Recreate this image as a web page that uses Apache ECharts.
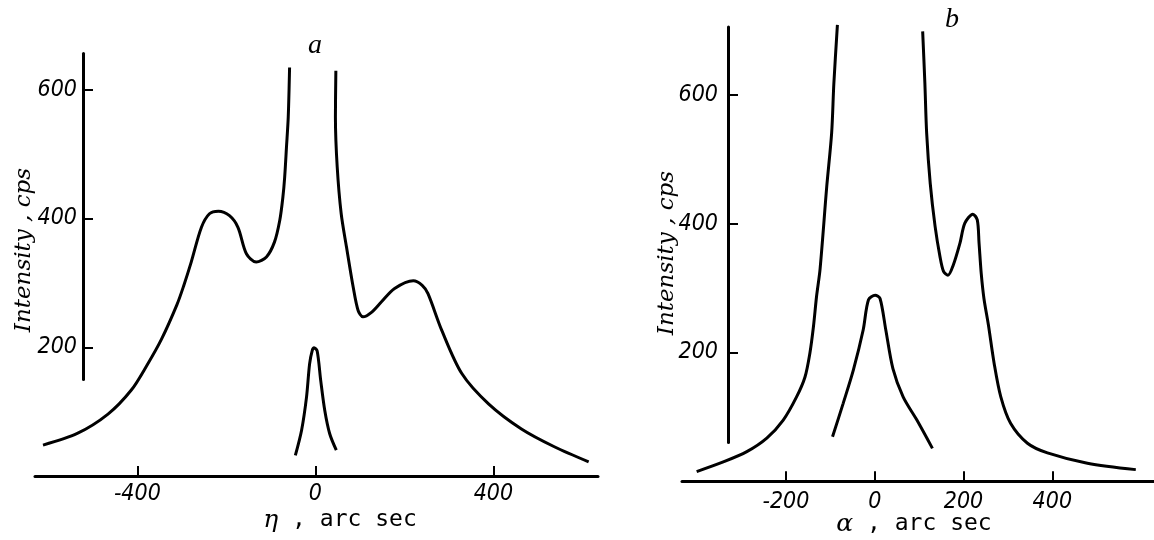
<!DOCTYPE html>
<html>
<head>
<meta charset="utf-8">
<title>Intensity curves</title>
<script src="https://cdn.jsdelivr.net/npm/echarts@6/dist/echarts.min.js"></script>
<style>
    html, body { margin: 0; padding: 0; background: #fff; }
    .chart { width: 1154px; height: 540px; }
</style>
</head>
<body>
<div class="chart"></div>
<script>
// 左图 a : 主曲线 (左支 / 右支) 和 中间窄峰
var etaMainLeft = [-612, -535, -466, -414, -380, -346, -311, -296, -279, -256, -238, -218, -193, -174, -155, -133, -110, -92, -80, -73, -69, -65, -61, -58];
var intMainLeft = [48, 66, 96, 133, 170, 212, 266, 295, 332, 386, 407, 411, 404, 386, 345, 332, 340, 363, 397, 433, 464, 510, 557, 634];
var etaMainRight = [46, 45, 49, 58, 70, 85, 96, 107, 126, 148, 178, 220, 240, 253, 284, 329, 389, 463, 538, 614];
var intMainRight = [629, 557, 480, 407, 355, 293, 257, 247, 254, 270, 291, 303, 296, 283, 226, 159, 112, 73, 45, 22];
var etaPeak = [-45, -31, -20, -13, -7, -3, 4, 12, 21, 32, 47];
var intPeak = [32, 71, 122, 174, 195, 199, 194, 148, 102, 66, 40];

// 右图 b
var alphaLeft = [-401, -341, -288, -243, -206, -176, -157, -146, -138, -131, -123, -108, -97, -92, -84];
var intAlphaLeft = [15, 30, 46, 67, 95, 131, 162, 199, 240, 287, 330, 458, 541, 618, 709];
var alphaRight = [108, 113, 117, 125, 136, 147, 155, 165, 177, 192, 203, 221, 231, 235, 240, 246, 256, 269, 284, 306, 344, 389, 479, 588];
var intAlphaRight = [699, 618, 541, 463, 396, 349, 326, 320, 336, 370, 401, 415, 406, 370, 322, 284, 243, 183, 131, 90, 59, 44, 28, 18];
var alphaPeak = [-95, -71, -48, -26, -14, 1, 12, 25, 41, 64, 95, 130];
var intAlphaPeak = [69, 121, 173, 235, 282, 289, 284, 235, 175, 131, 95, 51];

// 刻度
var etaTicks = [-400, 0, 400];
var alphaTicks = [-200, 0, 200, 400];
var intTicks = [200, 400, 600];

(function () {
    var myChart = echarts.init(document.querySelector('.chart'));

    // 把 x / y 两个数组拼成点
    function pts(xs, ys) {
        return xs.map(function (x, i) { return [x, ys[i]]; });
    }

    var black = '#000';
    var tickFont = "'Liberation Sans Narrow', 'DejaVu Sans Condensed', sans-serif";
    var nameFont = "italic 23px 'DejaVu Serif', 'Liberation Serif', serif";
    // 轴名: 希腊字母用大一点的斜体, 其余用等宽字
    var nameRich = {
        g: { font: "italic 25px 'DejaVu Serif', 'Liberation Serif', serif", fill: black },
        t: { font: "23px 'DejaVu Sans Mono', 'Liberation Mono', monospace", fill: black }
    };

    // 数据网格的 x 轴
    function dataXAxis(grid, min, max, ticks, margin) {
        return {
            type: 'value', gridIndex: grid, min: min, max: max,
            axisLine: { lineStyle: { color: black, width: 3 } },
            axisTick: { inside: true, length: 10, customValues: ticks, lineStyle: { color: black, width: 2 } },
            axisLabel: { customValues: ticks, margin: margin, color: black, fontStyle: 'italic', fontFamily: tickFont, fontSize: 23 },
            splitLine: { show: false }
        };
    }
    // 单独画出来的 y 轴 (线只画一段)
    function showYAxis(grid, min, max, margin) {
        return {
            type: 'value', gridIndex: grid, min: min, max: max,
            axisLine: { show: true, lineStyle: { color: black, width: 3 } },
            axisTick: { show: true, inside: true, length: 10, customValues: intTicks, lineStyle: { color: black, width: 2 } },
            axisLabel: { customValues: intTicks, margin: margin, color: black, fontStyle: 'italic', fontFamily: tickFont, fontSize: 23 },
            splitLine: { show: false }
        };
    }
    function hiddenAxis(grid, min, max) {
        return { type: 'value', gridIndex: grid, min: min, max: max, show: false, splitLine: { show: false } };
    }
    function curve(xi, data) {
        return {
            type: 'line', xAxisIndex: xi, yAxisIndex: xi, data: data,
            showSymbol: false, smooth: 0.3, silent: true,
            lineStyle: { color: black, width: 3 }
        };
    }

    var option = {
        animation: false,
        grid: [
            { left: 35, top: 25, width: 563, height: 451 },   // 左图数据
            { left: 83, top: 53.5, width: 10, height: 326 },  // 左图 y 轴
            { left: 682, top: 5, width: 472, height: 476.2 }, // 右图数据
            { left: 728, top: 26.9, width: 10, height: 415.7 } // 右图 y 轴
        ],
        xAxis: [
            dataXAxis(0, -630, 635, etaTicks, 7),
            hiddenAxis(1, 0, 1),
            dataXAxis(2, -434, 629, alphaTicks, 9),
            hiddenAxis(3, 0, 1)
        ],
        yAxis: [
            hiddenAxis(0, 0, 700),
            showYAxis(1, 150, 656, 6),
            hiddenAxis(2, 0, 740),
            showYAxis(3, 60, 706, 10)
        ],
        series: [
            curve(0, pts(etaMainLeft, intMainLeft)),
            curve(0, pts(etaMainRight, intMainRight)),
            curve(0, pts(etaPeak, intPeak)),
            curve(2, pts(alphaLeft, intAlphaLeft)),
            curve(2, pts(alphaRight, intAlphaRight)),
            curve(2, pts(alphaPeak, intAlphaPeak))
        ],
        // 轴名和小标题
        graphic: [
            { type: 'text', x: 315, y: 46, style: { text: 'a', font: "italic 28px 'Liberation Serif', serif", fill: black, textAlign: 'center', textVerticalAlign: 'middle' } },
            { type: 'text', x: 952, y: 20, style: { text: 'b', font: "italic 28px 'Liberation Serif', serif", fill: black, textAlign: 'center', textVerticalAlign: 'middle' } },
            { type: 'text', x: 24, y: 250, rotation: Math.PI / 2, style: { text: 'Intensity , cps', font: nameFont, fill: black, textAlign: 'center', textVerticalAlign: 'middle' } },
            { type: 'text', x: 667, y: 253, rotation: Math.PI / 2, style: { text: 'Intensity , cps', font: nameFont, fill: black, textAlign: 'center', textVerticalAlign: 'middle' } },
            { type: 'text', x: 340, y: 520, style: { text: '{g|η}{t| , arc sec}', rich: nameRich, fill: black, textAlign: 'center', textVerticalAlign: 'middle' } },
            { type: 'text', x: 914, y: 524, style: { text: '{g|α}{t| , arc sec}', rich: nameRich, fill: black, textAlign: 'center', textVerticalAlign: 'middle' } }
        ]
    };
    myChart.setOption(option);
    window.addEventListener('resize', function () {
        myChart.resize();
    });
})();
</script>
</body>
</html>
